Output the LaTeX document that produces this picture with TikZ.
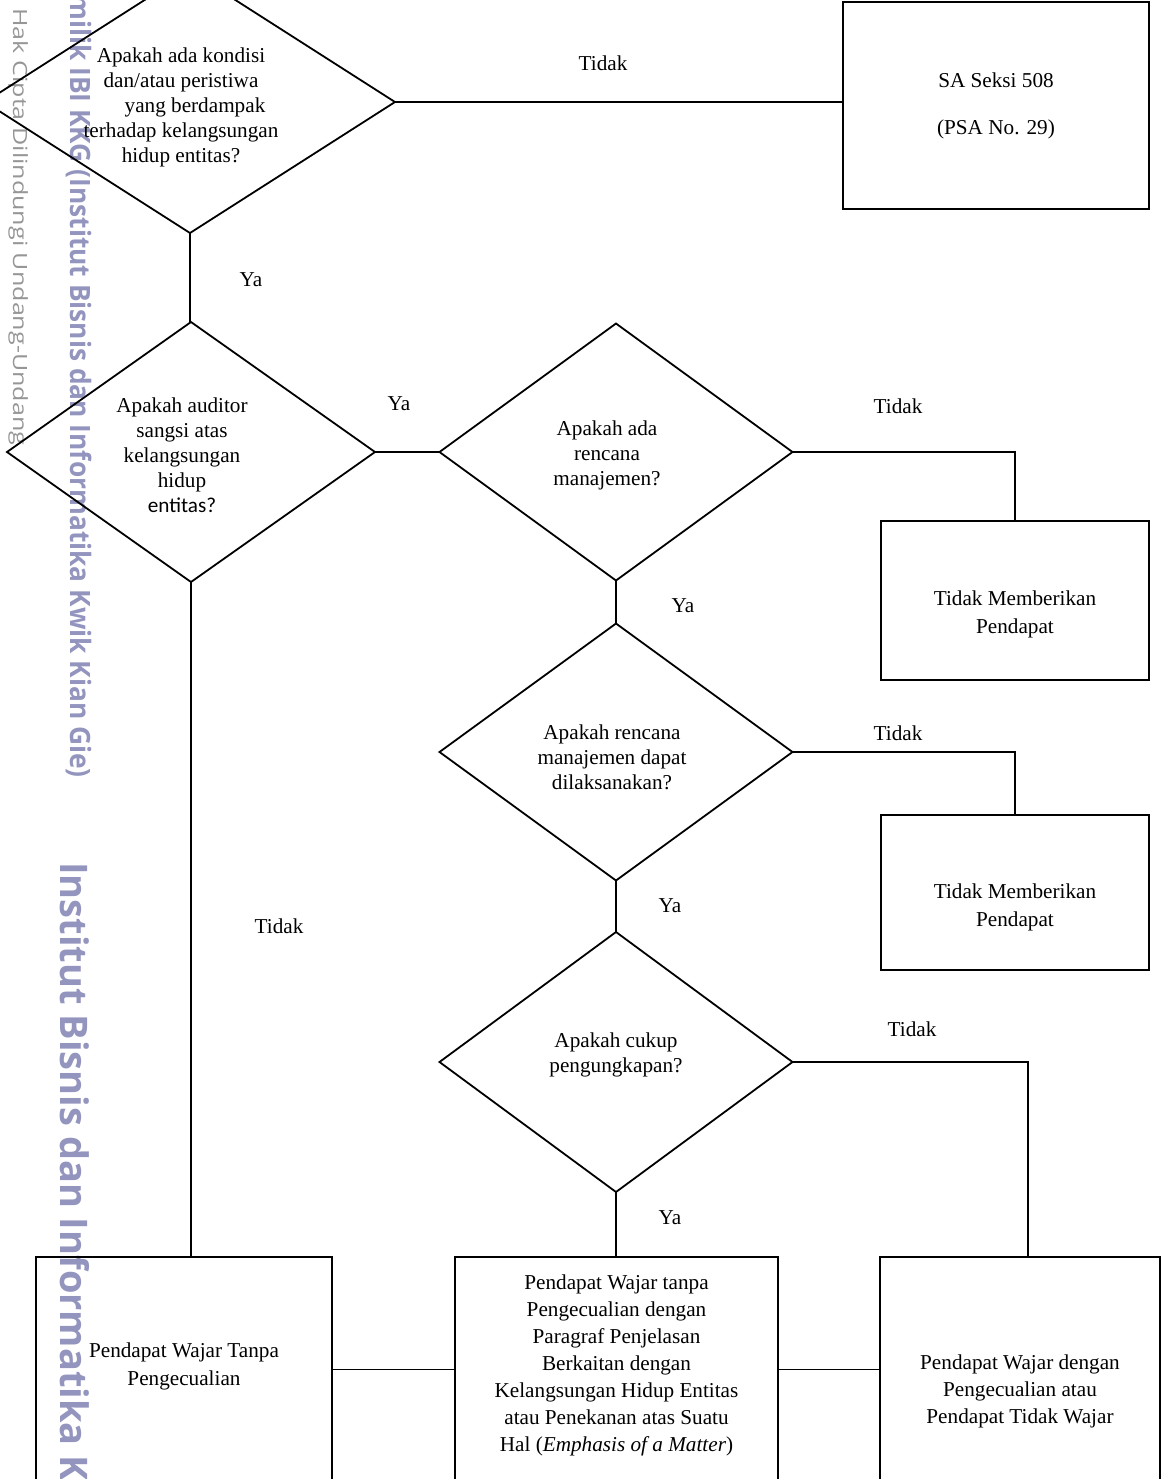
\documentclass[tikz,border=0pt]{standalone}
\usepackage{fontspec}
\setmainfont{Liberation Serif}
\newfontfamily\wmfont{Open Sans}
\newfontfamily\calfont{Carlito}
\usetikzlibrary{shapes.geometric}

\definecolor{wmgray}{RGB}{150,150,150}
\definecolor{wmblue}{RGB}{147,149,190}

\tikzset{
	decision/.style={draw, diamond, inner sep=0pt, outer sep=0pt, line width=0.9pt},
	result/.style={draw, rectangle, inner sep=0pt, outer sep=0pt, line width=0.9pt},
	link/.style={line width=0.9pt},
	txt/.style={align=center, inner sep=0pt, font=\fontsize{10.6}{12.5}\selectfont},
	wide/.style={txt, font=\fontsize{10.6}{13.5}\selectfont},
	wider/.style={txt, font=\fontsize{10.6}{14}\selectfont},
	answer/.style={inner sep=0pt, font=\fontsize{10.6}{12.5}\selectfont},
}

\begin{document}
\begin{tikzpicture}[x=0.5pt, y=-0.5pt]
	\useasboundingbox (0,0) rectangle (1162,1479);

	% watermark
	\node[rotate=-90, anchor=base west, inner sep=0pt, text=wmgray, font=\wmfont\fontsize{9.8}{12}\selectfont] (wmA) at (13,8) {\scalebox{1.28}[1]{Hak Cipta Dilindungi Undang-Undang}};
	\node[rotate=-90, anchor=base west, inner sep=0pt, text=wmblue, font=\wmfont\bfseries\fontsize{14}{16}\selectfont] (wmB) at (70,-6) {\scalebox{0.94}[1]{milik IBI KKG (Institut Bisnis dan Informatika Kwik Kian Gie)}};
	\node[rotate=-90, anchor=base west, inner sep=0pt, text=wmblue, font=\wmfont\bfseries\fontsize{19}{22}\selectfont] (wmC) at (61,862) {Institut Bisnis dan Informatika Kwik Kian Gie};

	% decisions
	\node[decision, minimum width=205pt, minimum height=131pt,
		label={[txt, xshift=-4.5pt, yshift=-2.5pt]center:Apakah ada kondisi\\dan/atau peristiwa\\\hspace*{14pt}yang berdampak\\terhadap kelangsungan\\hidup entitas?}] (d1) at (190,102) {};
	\node[decision, minimum width=184pt, minimum height=130pt,
		label={[txt, xshift=-4.5pt, yshift=-1.5pt]center:Apakah auditor\\sangsi atas\\kelangsungan\\hidup\\{\calfont entitas?}}] (d2) at (191,452) {};
	\node[decision, minimum width=176.5pt, minimum height=128.5pt,
		label={[txt, xshift=-4.5pt, yshift=-1.5pt]center:Apakah ada\\rencana\\manajemen?}] (d3) at (616,452) {};
	\node[decision, minimum width=176.5pt, minimum height=128.5pt,
		label={[txt, xshift=-2pt, yshift=-2.5pt]center:Apakah rencana\\manajemen dapat\\dilaksanakan?}] (d4) at (616,752) {};
	\node[decision, minimum width=176.5pt, minimum height=130pt,
		label={[txt, yshift=3.5pt]center:Apakah cukup\\pengungkapan?}] (d5) at (616,1062) {};

	% results
	\node[result, minimum width=153pt, minimum height=103.5pt,
		label={[txt]center:SA Seksi 508\\[11pt](PSA No. 29)}] (sa) at (996,105.5) {};
	\node[result, minimum width=134pt, minimum height=79.5pt,
		label={[wider, yshift=-7pt]center:Tidak Memberikan\\Pendapat}] (nop1) at (1015,600.5) {};
	\node[result, minimum width=134pt, minimum height=77.5pt,
		label={[wider, yshift=-7.25pt]center:Tidak Memberikan\\Pendapat}] (nop2) at (1015,892.5) {};
	\node[result, minimum width=148pt, minimum height=112.5pt,
		label={[wider, yshift=1.75pt]center:Pendapat Wajar Tanpa\\Pengecualian}] (wtp) at (184,1369.5) {};
	\node[result, minimum width=161.5pt, minimum height=112.5pt,
		label={[wide, yshift=2pt]center:Pendapat Wajar tanpa\\Pengecualian dengan\\Paragraf Penjelasan\\Berkaitan dengan\\Kelangsungan Hidup Entitas\\atau Penekanan atas Suatu\\Hal (\textit{Emphasis of a Matter})}] (wtpp) at (616.5,1369.5) {};
	\node[result, minimum width=140pt, minimum height=112.5pt,
		label={[wide, yshift=-11pt]center:Pendapat Wajar dengan\\Pengecualian atau\\Pendapat Tidak Wajar}] (wdp) at (1020,1369.5) {};

	% connectors
	\draw[link] (d1.east) -- (d1.east -| sa.west);
	\draw[link] (d1.south) -- (d1.south |- d2.north);
	\draw[link] (d2.east) -- (d3.west);
	\draw[link] (d3.east) -| (nop1.north);
	\draw[link] (d3.south) -- (d4.north);
	\draw[link] (d4.east) -| (nop2.north);
	\draw[link] (d4.south) -- (d5.north);
	\draw[link] (d5.east) -| ([xshift=4pt]wdp.north);
	\draw[link] (d5.south) -- (d5.south |- wtpp.north);
	\draw[link] (d2.south) -- (d2.south |- wtp.north);
	\draw[link] (wtp.east) -- (wtpp.west);
	\draw[link] (wtpp.east) -- (wdp.west);

	% answers
	\node[answer] (no1) at (603,63) {Tidak};
	\node[answer] (yes1) at (251,280) {Ya};
	\node[answer] (yes2) at (399,404) {Ya};
	\node[answer] (no2) at (898,406) {Tidak};
	\node[answer] (yes3) at (683,606) {Ya};
	\node[answer] (no3) at (898,733) {Tidak};
	\node[answer] (yes4) at (670,906) {Ya};
	\node[answer] (no4) at (912,1029) {Tidak};
	\node[answer] (yes5) at (670,1218) {Ya};
	\node[answer] (no5) at (279,926) {Tidak};
\end{tikzpicture}
\end{document}
